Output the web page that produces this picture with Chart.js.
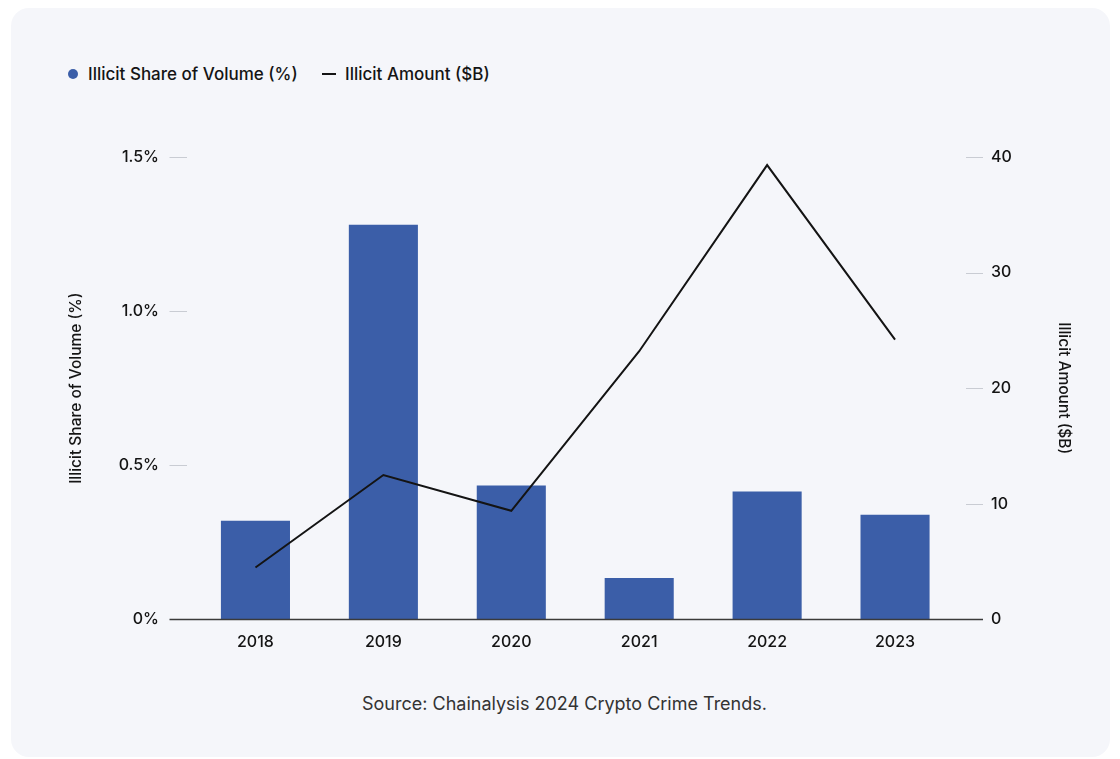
<!DOCTYPE html>
<html>
<head>
<meta charset="utf-8">
<script src="https://cdn.jsdelivr.net/npm/chart.js@4.4.1/dist/chart.umd.min.js"></script>
<style>
  html, body { margin:0; padding:0; background:#ffffff; }
  body { width:1120px; height:759px; position:relative; overflow:hidden; font-family:Inter, "Noto Sans", sans-serif; }
  .card { position:absolute; left:11px; top:8px; width:1099px; height:749px; border-radius:18px; background:#f5f6fa; }
  .legend { position:absolute; top:64px; left:0; height:20px; font-size:17px; font-weight:500; color:#141414; }
  .legend .item { position:absolute; top:0; white-space:nowrap; line-height:20px; }
  .dot { position:absolute; left:68px; top:69px; width:10px; height:10px; border-radius:50%; background:#3b5ea8; }
  .dash { position:absolute; left:322px; top:73px; width:14px; height:2px; background:#141414; }
  .source { position:absolute; left:15px; width:1099px; top:693px; text-align:center; font-size:18px; color:#333; }
  #chart { position:absolute; left:0; top:0; }
</style>
</head>
<body>
<div class="card"></div>
<div class="dot"></div>
<div class="legend"><span class="item" style="left:88px">Illicit Share of Volume (%)</span></div>
<div class="dash"></div>
<div class="legend"><span class="item" style="left:345px">Illicit Amount ($B)</span></div>
<div class="source">Source: Chainalysis 2024 Crypto Crime Trends.</div>
<canvas id="chart" width="1120" height="759"></canvas>
<script>
// data
const years = ["2018", "2019", "2020", "2021", "2022", "2023"];
const illicitShare = [0.32, 1.28, 0.435, 0.135, 0.415, 0.34];   // % of volume
const illicitAmount = [4.5, 12.5, 9.4, 23.2, 39.3, 24.2];       // $B
const shareTicks = [0, 0.5, 1.0, 1.5];
const amountTicks = [0, 10, 20, 30, 40];

const BAR = "#3b5ea8";
const INK = "#141414";
const TICK_GRAY = "#c9ccd3";
const FONT = "Inter, 'Noto Sans', sans-serif";

function fmtShare(v){ return v === 0 ? "0%" : v.toFixed(1) + "%"; }

// short tick marks beside the chart area + the dark zero baseline
const axisMarks = {
  id: "axisMarks",
  afterDatasetsDraw(chart){
    const { ctx, chartArea, scales } = chart;
    const lx0 = chartArea.left - 22, lx1 = chartArea.left - 4.5;
    const rx0 = chartArea.right + 7, rx1 = chartArea.right + 24;
    ctx.save();
    ctx.lineWidth = 1;
    ctx.strokeStyle = TICK_GRAY;
    scales.y.ticks.forEach(t => {
      if (t.value === 0) return;
      const y = Math.round(scales.y.getPixelForValue(t.value)) + 0.5;
      ctx.beginPath(); ctx.moveTo(lx0, y); ctx.lineTo(lx1, y); ctx.stroke();
    });
    scales.y1.ticks.forEach(t => {
      if (t.value === 0) return;
      const y = Math.round(scales.y1.getPixelForValue(t.value)) + 0.5;
      ctx.beginPath(); ctx.moveTo(rx0, y); ctx.lineTo(rx1, y); ctx.stroke();
    });
    const y0 = scales.y.getPixelForValue(0);
    ctx.lineWidth = 1.6;
    ctx.strokeStyle = "#3a3a3a";
    ctx.beginPath(); ctx.moveTo(lx0, y0); ctx.lineTo(rx1, y0); ctx.stroke();
    ctx.restore();
  }
};

new Chart(document.getElementById("chart"), {
  data: {
    labels: years,
    datasets: [
      {
        type: "line",
        label: "Illicit Amount ($B)",
        data: illicitAmount,
        yAxisID: "y1",
        borderColor: INK,
        borderWidth: 2,
        pointRadius: 0,
        tension: 0,
        order: 0
      },
      {
        type: "bar",
        label: "Illicit Share of Volume (%)",
        data: illicitShare,
        yAxisID: "y",
        backgroundColor: BAR,
        barPercentage: 0.9,
        categoryPercentage: 0.6,
        order: 1
      }
    ]
  },
  options: {
    responsive: false,
    animation: false,
    layout: { padding: { left: 60, right: 40, top: 157, bottom: 99.5 } },
    plugins: { legend: { display: false }, tooltip: { enabled: false } },
    scales: {
      x: {
        grid: { display: false, drawTicks: false },
        border: { display: false },
        ticks: { color: INK, padding: 13, font: { family: FONT, size: 16, weight: 500 } },
        afterFit: s => { s.height = 40; }
      },
      y: {
        position: "left",
        min: 0, max: 1.5,
        grid: { display: false, drawTicks: false },
        border: { display: false },
        afterBuildTicks: s => { s.ticks = shareTicks.map(v => ({ value: v })); },
        ticks: { color: INK, padding: 32.5, callback: v => fmtShare(v), font: { family: FONT, size: 16, weight: 500 } },
        title: { display: true, text: "Illicit Share of Volume (%)", color: INK, padding: { top: 7, bottom: 0 }, font: { family: FONT, size: 15.5, weight: 500 } },
        afterFit: s => { s.width = 131.5; }
      },
      y1: {
        position: "right",
        min: 0, max: 40,
        grid: { display: false, drawTicks: false },
        border: { display: false },
        afterBuildTicks: s => { s.ticks = amountTicks.map(v => ({ value: v })); },
        ticks: { color: INK, padding: 32, font: { family: FONT, size: 16, weight: 500 } },
        title: { display: true, text: "Illicit Amount ($B)", color: INK, padding: { top: 7, bottom: 0 }, font: { family: FONT, size: 15.5, weight: 500 } },
        afterFit: s => { s.width = 121; }
      }
    }
  },
  plugins: [axisMarks]
});
</script>
</body>
</html>
